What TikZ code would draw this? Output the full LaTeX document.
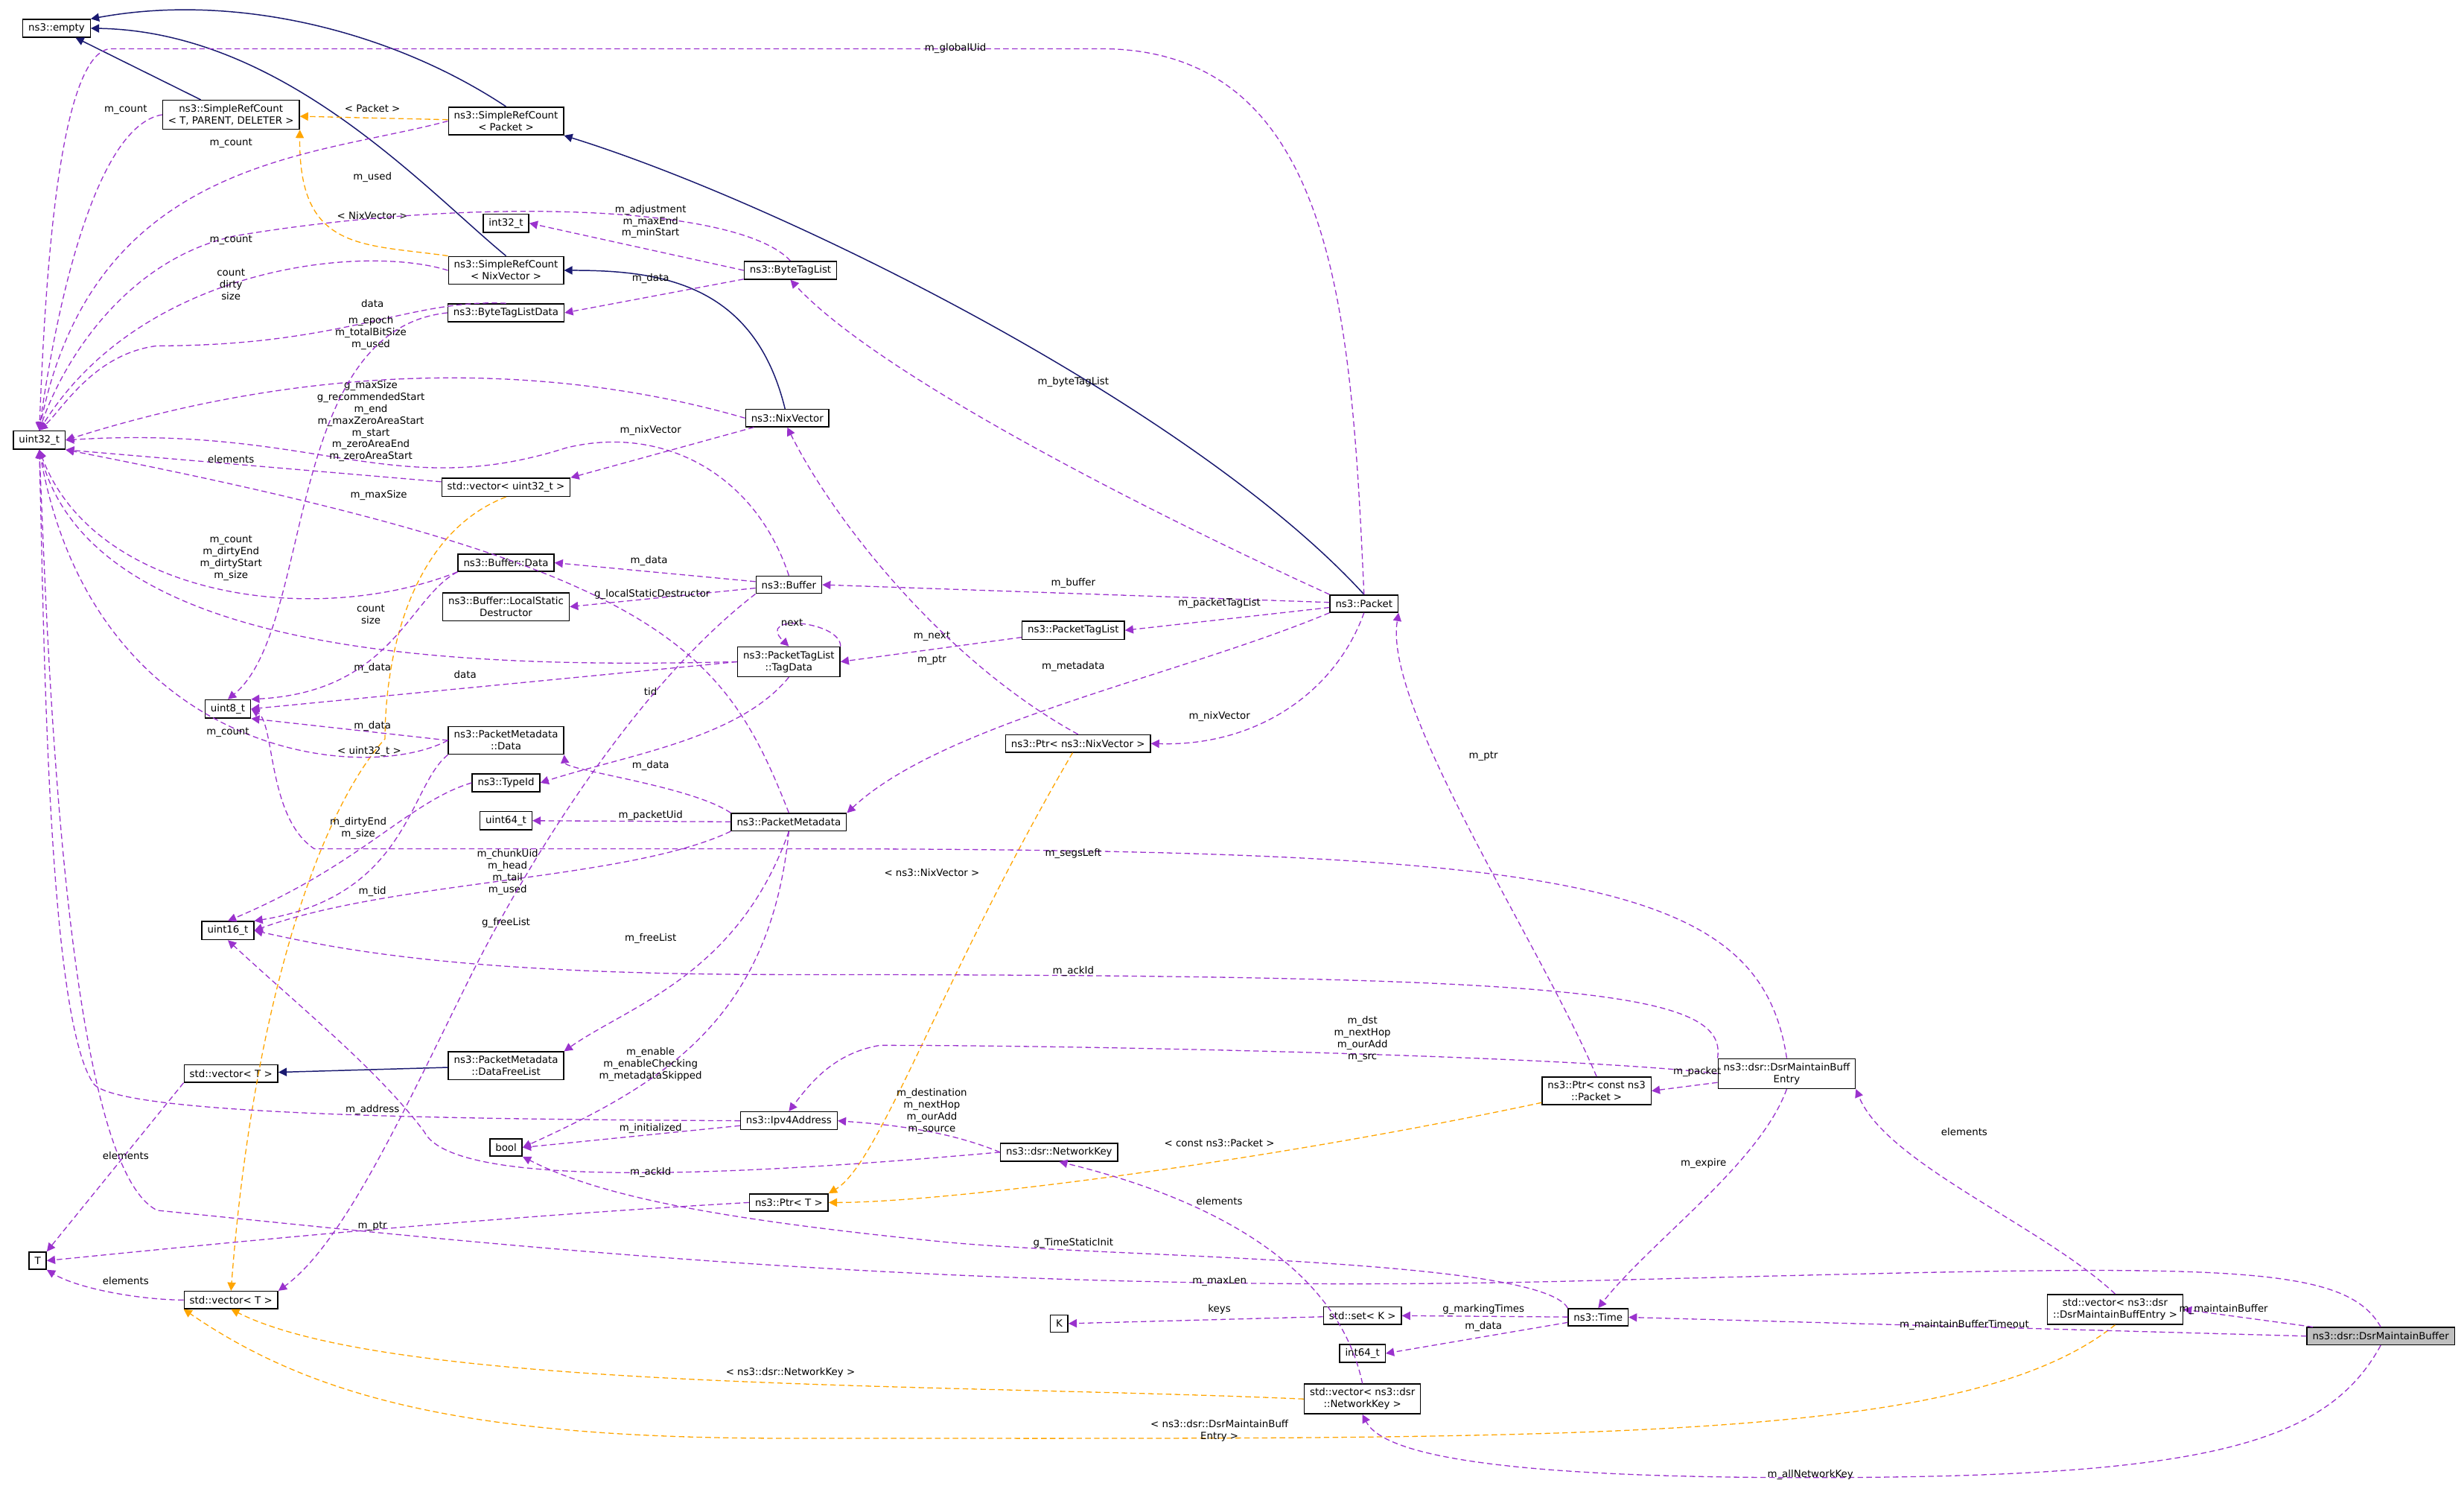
\documentclass[tikz,border=0pt]{standalone}
\usepackage{fontspec}
\setmainfont{DejaVu Sans}
\usetikzlibrary{arrows.meta}
\definecolor{pur}{HTML}{9A32CD}
\definecolor{ora}{HTML}{FFA500}
\definecolor{nav}{HTML}{191970}
\begin{document}
\begin{tikzpicture}[x=0.02cm,y=-0.02cm,
  box/.style={draw,fill=white,font=\fontsize{3.6}{4.3}\selectfont,inner xsep=2pt,inner ysep=1.5pt,minimum height=0.22cm,align=center,line width=0.4pt},
  lab/.style={font=\fontsize{3.6}{4.3}\selectfont,align=center,inner sep=0.5pt},
  pe/.style={draw=pur,line width=0.35pt,-{Triangle[length=3pt,width=3pt]},dash pattern=on 2pt off 1.2pt},
  oe/.style={draw=ora,line width=0.35pt,-{Triangle[length=3pt,width=3pt]},dash pattern=on 2pt off 1.2pt},
  ne/.style={draw=nav,line width=0.4pt,-{Triangle[length=3pt,width=3pt]}}]
\useasboundingbox (0,0) rectangle (1568,945);
% nodes
\node[box] (empty) at (36,18) {ns3::empty};
\node[box] (srcT) at (147,73) {ns3::SimpleRefCount\\< T, PARENT, DELETER >};
\node[box] (srcP) at (322,77) {ns3::SimpleRefCount\\< Packet >};
\node[box] (i32) at (322,142) {int32\_t};
\node[box] (srcN) at (322,172) {ns3::SimpleRefCount\\< NixVector >};
\node[box] (btld) at (322,199) {ns3::ByteTagListData};
\node[box] (btl) at (503,172) {ns3::ByteTagList};
\node[box] (nix) at (501,266) {ns3::NixVector};
\node[box] (u32) at (25,280) {uint32\_t};
\node[box] (vu32) at (322,310) {std::vector< uint32\_t >};
\node[box] (bdata) at (322,358) {ns3::Buffer::Data};
\node[box] (lsd) at (322,386) {ns3::Buffer::LocalStatic\\Destructor};
\node[box] (buf) at (502,372) {ns3::Buffer};
\node[box] (tag) at (502,421) {ns3::PacketTagList\\::TagData};
\node[box] (ptl) at (683,401) {ns3::PacketTagList};
\node[box] (pkt) at (868,384) {ns3::Packet};
\node[box] (u8) at (145,451) {uint8\_t};
\node[box] (pmd) at (322,471) {ns3::PacketMetadata\\::Data};
\node[box] (tid) at (322,498) {ns3::TypeId};
\node[box] (u64) at (322,522) {uint64\_t};
\node[box] (pm) at (502,523) {ns3::PacketMetadata};
\node[box] (pnix) at (686,473) {ns3::Ptr< ns3::NixVector >};
\node[box] (u16) at (145,592) {uint16\_t};
\node[box] (vT1) at (147,683) {std::vector< T >};
\node[box] (dfl) at (322,678) {ns3::PacketMetadata\\::DataFreeList};
\node[box] (ipv4) at (502,713) {ns3::Ipv4Address};
\node[box] (bool) at (322,730) {bool};
\node[box] (nk) at (674,733) {ns3::dsr::NetworkKey};
\node[box] (ptrT) at (502,765) {ns3::Ptr< T >};
\node[box] (T) at (24,802) {T};
\node[box] (vT2) at (147,827) {std::vector< T >};
\node[box] (K) at (674,842) {K};
\node[box] (setK) at (867,837) {std::set< K >};
\node[box] (i64) at (867,861) {int64\_t};
\node[box] (time) at (1017,838) {ns3::Time};
\node[box] (pcp) at (1016,694) {ns3::Ptr< const ns3\\::Packet >};
\node[box] (dme) at (1137,683) {ns3::dsr::DsrMaintainBuff\\Entry};
\node[box] (vdme) at (1346,833) {std::vector< ns3::dsr\\::DsrMaintainBuffEntry >};
\node[box] (vnk) at (867,890) {std::vector< ns3::dsr\\::NetworkKey >};
\node[box,fill=black!25] (dmb) at (1515,850) {ns3::dsr::DsrMaintainBuffer};
% navy inheritance
\draw[ne] (srcT) -- (empty);
\draw[ne] (srcP.north) .. controls (250,20) and (150,-5) .. (empty.north east);
\draw[ne] (srcN.north) .. controls (270,120) and (180,20) .. (empty.east);
\draw[ne] (pkt.north) .. controls (760,260) and (500,130) .. (srcP.south east);
\draw[ne] (nix) .. controls (480,180) and (420,172) .. (srcN.east);
\draw[ne] (dfl) -- (vT1);
% orange templates
\draw[oe] (srcP) -- (srcT);
\node[lab] at (237,69) {< Packet >};
\draw[oe] (srcN.north west) .. controls (230,155) and (190,160) .. (srcT.south east);
\node[lab] at (237,137) {< NixVector >};
\draw[oe] (vu32.south) .. controls (260,340) and (245,420) .. (245,470) .. controls (200,520) and (160,650) .. (vT2.north);
\node[lab] at (235,478) {< uint32\_t >};
\draw[oe] (pnix) .. controls (600,620) and (560,740) .. (ptrT.north east);
\node[lab] at (593,555) {< ns3::NixVector >};
\draw[oe] (pcp) .. controls (800,740) and (600,765) .. (ptrT.east);
\node[lab] at (776,727) {< const ns3::Packet >};
\draw[oe] (vnk.west) .. controls (600,880) and (250,885) .. (vT2.south);
\node[lab] at (503,873) {< ns3::dsr::NetworkKey >};
\draw[oe] (vdme.south) .. controls (1250,920) and (1000,915) .. (500,915) .. controls (300,915) and (200,890) .. (vT2.south west);
\node[lab] at (776,910) {< ns3::dsr::DsrMaintainBuff\\Entry >};
% purple members into uint32_t
\draw[pe] (pkt.north) .. controls (860,200) and (850,31) .. (700,31) -- (70,31) .. controls (35,35) and (28,200) .. (u32.north);
\node[lab] at (608,31) {m\_globalUid};
\draw[pe] (srcT.west) .. controls (60,80) and (35,200) .. (u32.north);
\node[lab] at (80,70) {m\_count};
\draw[pe] (srcP.west) .. controls (200,100) and (60,100) .. (u32.north);
\node[lab] at (147,91) {m\_count};
\draw[pe] (btl.north) .. controls (470,130) and (300,125) .. (150,150) .. controls (80,165) and (40,230) .. (u32.north);
\node[lab] at (237,113) {m\_used};
\draw[pe] (srcN.west) .. controls (230,155) and (90,170) .. (u32.north);
\node[lab] at (147,153) {m\_count};
\draw[pe] (btld.north) .. controls (260,190) and (220,220) .. (100,220) .. controls (60,225) and (40,260) .. (u32.north);
\node[lab] at (147,181) {count\\dirty\\size};
\draw[pe] (nix.west) .. controls (350,230) and (200,230) .. (u32.east);
\node[lab] at (236,212) {m\_epoch\\m\_totalBitSize\\m\_used};
\draw[pe] (buf.north) .. controls (480,300) and (420,270) .. (360,285) .. controls (250,320) and (200,270) .. (u32.east);
\node[lab] at (236,268) {g\_maxSize\\g\_recommendedStart\\m\_end\\m\_maxZeroAreaStart\\m\_start\\m\_zeroAreaEnd\\m\_zeroAreaStart};
\draw[pe] (nix) -- (vu32.north east);
\node[lab] at (414,274) {m\_nixVector};
\draw[pe] (vu32) -- (u32.south east);
\node[lab] at (147,292) {elements};
\draw[pe] (pm.north) .. controls (460,410) and (420,360) .. (u32.south east);
\node[lab] at (241,315) {m\_maxSize};
\draw[pe] (bdata.south west) .. controls (200,400) and (60,380) .. (u32.south);
\node[lab] at (147,355) {m\_count\\m\_dirtyEnd\\m\_dirtyStart\\m\_size};
\draw[pe] (tag.west) .. controls (300,425) and (60,420) .. (u32.south);
\node[lab] at (236,391) {count\\size};
\draw[pe] (pmd.west) .. controls (230,500) and (60,480) .. (u32.south);
\node[lab] at (145,466) {m\_count};
% misc upper
\draw[pe] (btld.west) .. controls (180,210) and (200,400) .. (u8.north);
\node[lab] at (237,193) {data};
\draw[pe] (btl.west) -- (i32.east);
\node[lab] at (414,141) {m\_adjustment\\m\_maxEnd\\m\_minStart};
\draw[pe] (btl) -- (btld.east);
\node[lab] at (414,177) {m\_data};
\draw[pe] (buf) -- (bdata.east);
\node[lab] at (413,357) {m\_data};
\draw[pe] (buf) -- (lsd.east);
\node[lab] at (415,378) {g\_localStaticDestructor};
\draw[pe] (tag.north east) .. controls (535,395) and (480,390) .. (tag.north);
\node[lab] at (504,396) {next};
\draw[pe] (ptl) -- (tag.east);
\node[lab] at (593,405) {m\_next};
\draw[pe] (tag.west) -- (u8.east);
\node[lab] at (296,429) {data};
\draw[pe] (bdata.south west) .. controls (260,380) and (250,440) .. (u8.north east);
\node[lab] at (237,425) {m\_data};
\draw[pe] (pmd.west) -- (u8.south east);
\node[lab] at (237,462) {m\_data};
% packet metadata
\draw[pe] (tag.south) .. controls (470,470) and (400,480) .. (tid.east);
\node[lab] at (414,440) {tid};
\draw[pe] (pm.north west) .. controls (440,500) and (360,490) .. (pmd.south east);
\node[lab] at (414,487) {m\_data};
\draw[pe] (pm) -- (u64);
\node[lab] at (414,519) {m\_packetUid};
\draw[pe] (pm.south west) .. controls (400,560) and (250,560) .. (u16.east);
\node[lab] at (323,555) {m\_chunkUid\\m\_head\\m\_tail\\m\_used};
\draw[pe] (pmd.south west) .. controls (260,500) and (260,570) .. (u16.north east);
\node[lab] at (228,527) {m\_dirtyEnd\\m\_size};
\draw[pe] (tid.west) .. controls (260,510) and (230,550) .. (u16.north);
\node[lab] at (237,567) {m\_tid};
\draw[pe] (buf.south west) .. controls (400,440) and (330,560) .. (300,620) .. controls (260,700) and (220,790) .. (vT2.north east);
\node[lab] at (322,587) {g\_freeList};
\draw[pe] (pm.south) .. controls (470,620) and (400,640) .. (dfl.north east);
\node[lab] at (414,597) {m\_freeList};
\draw[pe] (pm.south) .. controls (490,650) and (420,690) .. (bool.east);
\node[lab] at (414,677) {m\_enable\\m\_enableChecking\\m\_metadataSkipped};
% packet
\draw[pe] (pkt) -- (buf.east);
\node[lab] at (683,371) {m\_buffer};
\draw[pe] (pkt) -- (ptl.east);
\node[lab] at (776,384) {m\_packetTagList};
\draw[pe] (pkt.south west) .. controls (750,430) and (600,460) .. (pm.north east);
\node[lab] at (683,424) {m\_metadata};
\draw[pe] (pkt.south) .. controls (850,440) and (800,475) .. (pnix.east);
\node[lab] at (776,456) {m\_nixVector};
\draw[pe] (pkt.north west) .. controls (740,330) and (560,240) .. (btl.south);
\node[lab] at (683,243) {m\_byteTagList};
\draw[pe] (pnix.north) .. controls (600,420) and (530,330) .. (nix.south);
\node[lab] at (593,420) {m\_ptr};
\draw[pe] (pcp.north) .. controls (980,600) and (880,450) .. (pkt.south east);
\node[lab] at (944,481) {m\_ptr};
% dsr
\draw[pe] (dme.north) .. controls (1120,560) and (1000,540) .. (500,540) -- (200,540) .. controls (170,520) and (175,460) .. (u8.east);
\node[lab] at (683,543) {m\_segsLeft};
\draw[pe] (dme.north west) .. controls (1100,630) and (1000,620) .. (500,620) .. controls (300,620) and (220,605) .. (u16.east);
\node[lab] at (683,618) {m\_ackId};
\draw[pe] (dme.west) .. controls (1000,672) and (700,665) .. (560,665) .. controls (530,670) and (515,690) .. (ipv4.north);
\node[lab] at (867,661) {m\_dst\\m\_nextHop\\m\_ourAdd\\m\_src};
\draw[pe] (dme) -- (pcp.east);
\node[lab] at (1080,682) {m\_packet};
\draw[pe] (dme.south) .. controls (1120,740) and (1050,790) .. (time.north);
\node[lab] at (1084,740) {m\_expire};
\draw[pe] (vdme.north) .. controls (1300,780) and (1200,740) .. (dme.south east);
\node[lab] at (1250,720) {elements};
\draw[pe] (vnk.north) .. controls (850,800) and (760,760) .. (nk.south);
\node[lab] at (776,764) {elements};
\draw[pe] (nk.west) .. controls (600,718) and (560,715) .. (ipv4.east);
\node[lab] at (593,707) {m\_destination\\m\_nextHop\\m\_ourAdd\\m\_source};
\draw[pe] (nk.west) .. controls (500,745) and (290,760) .. (270,720) .. controls (240,680) and (190,640) .. (u16.south);
\node[lab] at (414,746) {m\_ackId};
\draw[pe] (ipv4) -- (bool.east);
\node[lab] at (414,718) {m\_initialized};
\draw[pe] (ipv4.west) .. controls (300,712) and (80,710) .. (60,690) .. controls (30,650) and (28,400) .. (u32.south);
\node[lab] at (237,706) {m\_address};
\draw[pe] (ptrT.west) .. controls (300,775) and (150,790) .. (T.east);
\node[lab] at (237,780) {m\_ptr};
\draw[pe] (vT1.south west) -- (T.north east);
\node[lab] at (80,735) {elements};
\draw[pe] (vT2.west) .. controls (90,827) and (50,820) .. (T.south east);
\node[lab] at (80,815) {elements};
\draw[pe] (time.north west) .. controls (980,800) and (700,800) .. (600,790) .. controls (450,775) and (380,760) .. (bool.south east);
\node[lab] at (683,791) {g\_TimeStaticInit};
\draw[pe] (time) -- (setK.east);
\node[lab] at (944,833) {g\_markingTimes};
\draw[pe] (setK) -- (K.east);
\node[lab] at (776,833) {keys};
\draw[pe] (time) -- (i64.east);
\node[lab] at (944,844) {m\_data};
\draw[pe] (dmb.north) .. controls (1490,800) and (1400,805) .. (1000,815) .. controls (600,825) and (300,790) .. (100,770) .. controls (40,740) and (30,400) .. (u32.south);
\node[lab] at (776,815) {m\_maxLen};
\draw[pe] (dmb.west) -- (time.east);
\node[lab] at (1250,843) {m\_maintainBufferTimeout};
\draw[pe] (dmb) -- (vdme.east);
\node[lab] at (1415,833) {m\_maintainBuffer};
\draw[pe] (dmb.south) .. controls (1480,920) and (1400,940) .. (1150,940) .. controls (950,940) and (880,925) .. (vnk.south);
\node[lab] at (1152,938) {m\_allNetworkKey};
\end{tikzpicture}
\end{document}
